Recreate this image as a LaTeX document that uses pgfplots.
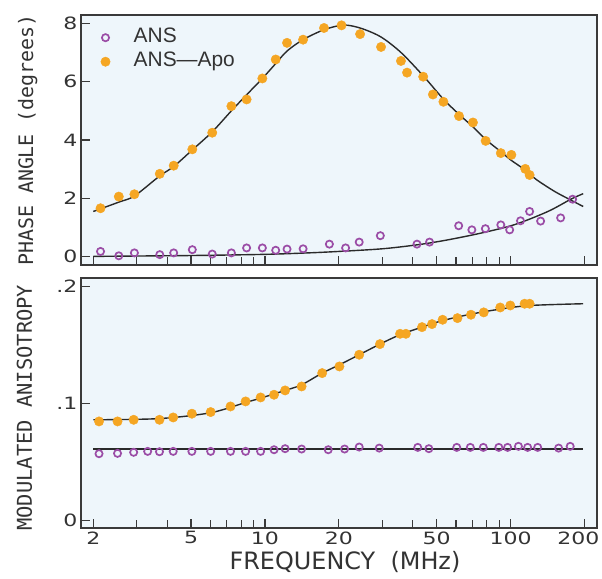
\documentclass[border=0pt]{standalone}
\usepackage{pgfplots}
\pgfplotsset{compat=1.18}
\usepackage{fontspec}
\setmainfont{DejaVu Sans}
\newfontfamily\tickfont[FakeStretch=1.3]{DejaVu Sans}
\newfontfamily\legfont{Liberation Sans}
\newfontfamily\labmono{DejaVu Sans Mono}
\definecolor{bgblue}{HTML}{EEF6FB}
\definecolor{apocol}{HTML}{F5A623}
\definecolor{anscol}{HTML}{9B4DA6}
\definecolor{axiscol}{HTML}{3A3A3A}
\definecolor{textcol}{HTML}{333333}
\definecolor{curvecol}{HTML}{2A2A2A}
\begin{document}
\begin{tikzpicture}
\path[use as bounding box] (0,0) rectangle (602bp,579bp);
% ---------------- top panel: phase angle ----------------
\begin{axis}[name=top, at={(81bp,314bp)}, anchor=south west,
  scale only axis, width=516bp, height=250bp,
  xmode=log, xmin=1.782, xmax=225,
  axis line style={draw=axiscol, line width=1.2bp},
  axis background/.style={fill=bgblue},
  tick align=inside, xtick pos=left, ytick pos=left,
  major tick length=9bp, minor tick length=8bp,
  tick style={draw=axiscol, line width=1.1bp},
  xtick={2,5,10,20,50,100,200},
  minor xtick={3,4,6,7,8,9,30,40,60,70,80,90},
  tick label style={font=\tickfont\fontsize{17}{20}\selectfont, text=textcol},
  scaled y ticks=false,
  ymin=-0.285, ymax=8.285,
  ytick={0,2,4,6,8}, yticklabels={0,2,4,6,8},
  xticklabels={},
  ylabel={PHASE ANGLE (degrees)},
  ylabel style={font=\labmono\fontsize{20}{24}\selectfont, text=textcol, anchor=base,
    at={(axis description cs:-0.093,0.5)}},
  legend style={at={(axis description cs:0.038,0.950)}, anchor=north west,
    draw=none, fill=none, inner xsep=0pt, inner ysep=0pt, row sep=4bp, column sep=23.5bp,
    font=\legfont\fontsize{21}{24}\selectfont, text=textcol,
    nodes={inner sep=0pt, text height=15bp, text depth=5bp}},
  legend cell align=left,
]
\addplot[only marks, mark=o, mark size=3.6bp, mark options={draw=anscol, line width=1.7bp}] coordinates {
 (2.14,0.18) (2.54,0.03) (2.94,0.13) (3.73,0.07) (4.25,0.13) (5.06,0.24)
 (6.10,0.09) (7.30,0.13) (8.42,0.30) (9.76,0.30) (11.06,0.22) (12.3,0.26)
 (14.3,0.27) (18.3,0.43) (21.3,0.30) (24.2,0.50) (29.5,0.72) (41.6,0.43)
 (46.8,0.50) (61.5,1.06) (69.6,0.92) (79.0,0.96) (91.3,1.09) (99.2,0.92)
 (109.8,1.23) (119.6,1.55) (132.6,1.22) (160,1.33) (179,1.97)
};
\addlegendentry{ANS}
\addplot[only marks, mark=*, mark size=4.7bp, mark options={draw=apocol, fill=apocol}] coordinates {
 (2.14,1.66) (2.54,2.06) (2.94,2.14) (3.73,2.84) (4.25,3.12) (5.06,3.68)
 (6.10,4.25) (7.30,5.16) (8.42,5.39) (9.76,6.11) (11.06,6.76) (12.3,7.33)
 (14.3,7.44) (17.4,7.84) (20.5,7.93) (24.4,7.63) (29.7,7.19) (35.8,6.71)
 (37.9,6.31) (44.1,6.17) (48.3,5.56) (53.3,5.31) (61.7,4.82) (70.3,4.60)
 (79.2,3.97) (91.3,3.55) (100.8,3.49) (114.8,3.01) (119.6,2.80)
};
\addlegendentry{ANS—Apo}
\addplot[smooth, line width=1.4bp, draw=curvecol, forget plot] coordinates {
 (2.0,1.55) (2.54,1.87) (2.94,2.08) (3.73,2.77) (4.25,3.09) (5.06,3.66)
 (6.10,4.28) (7.30,5.00) (8.42,5.55) (9.76,6.11) (11.06,6.62) (12.3,7.05)
 (14.3,7.44) (17.4,7.78) (20.9,7.94) (24.6,7.83) (29.7,7.53) (35.8,7.00)
 (44.1,6.20) (53.3,5.40) (61.7,4.88) (70.3,4.45) (79.2,4.02) (91.3,3.60)
 (100.8,3.30) (114.8,2.97) (127.6,2.64) (151.7,2.23) (177,1.93) (197.7,1.72)
};
\addplot[smooth, line width=1.4bp, draw=curvecol, forget plot] coordinates {
 (2.0,0.01) (5,0.04) (10,0.08) (15,0.13) (20,0.18) (30,0.27) (42,0.41)
 (55,0.57) (76,0.81) (104,1.10) (142,1.55) (177,1.98) (197.7,2.16)
};
\end{axis}
% ---------------- bottom panel: modulated anisotropy ----------------
\begin{axis}[name=bot, at={(81bp,51bp)}, anchor=south west,
  scale only axis, width=516bp, height=250bp,
  xmode=log, xmin=1.782, xmax=225,
  axis line style={draw=axiscol, line width=1.2bp},
  axis background/.style={fill=bgblue},
  tick align=inside, xtick pos=left, ytick pos=left,
  major tick length=9bp, minor tick length=8bp,
  tick style={draw=axiscol, line width=1.1bp},
  xtick={2,5,10,20,50,100,200},
  minor xtick={3,4,6,7,8,9,30,40,60,70,80,90},
  tick label style={font=\tickfont\fontsize{17}{20}\selectfont, text=textcol},
  scaled y ticks=false,
  ymin=-0.0065, ymax=0.2072,
  ytick={0,0.1,0.2}, yticklabels={0,.1,.2},
  xticklabels={2,5,10,20,50,100,\hspace*{-12bp}200},
  ylabel={MODULATED ANISOTROPY},
  ylabel style={font=\labmono\fontsize{20.5}{24}\selectfont, text=textcol, anchor=base,
    at={(axis description cs:-0.095,0.481)}},
  xlabel={FREQUENCY\hspace{0.64em}(MHz)},
  xlabel style={font=\fontsize{24}{28}\selectfont, text=textcol,
    at={(axis description cs:0.5116,-0.166)}, anchor=base},
]
\addplot[only marks, mark=o, mark size=3.6bp, mark options={draw=anscol, line width=1.7bp}] coordinates {
 (2.11,0.0570) (2.51,0.0573) (2.92,0.0582) (3.33,0.0590) (3.72,0.0587)
 (4.23,0.0590) (5.04,0.0590) (6.01,0.0590) (7.24,0.0590) (8.34,0.0590)
 (9.60,0.0590) (10.89,0.0604) (12.08,0.0613) (14.1,0.0610) (18.1,0.0604)
 (21.1,0.0610) (24.2,0.0627) (29.2,0.0618) (41.9,0.0624) (46.5,0.0613)
 (60.4,0.0624) (68.6,0.0624) (77.5,0.0624) (89.6,0.0624) (97.3,0.0624)
 (107.7,0.0633) (117.4,0.0624) (129,0.0624) (157,0.0618) (175,0.0633)
};
\addplot[only marks, mark=*, mark size=4.7bp, mark options={draw=apocol, fill=apocol}] coordinates {
 (2.11,0.0846) (2.51,0.0846) (2.92,0.0860) (3.72,0.0860) (4.23,0.0880)
 (5.04,0.0912) (6.01,0.0926) (7.24,0.0974) (8.34,0.1017) (9.60,0.1051)
 (10.89,0.1074) (12.08,0.1111) (14.1,0.1145) (17.1,0.1259) (20.1,0.1316)
 (24.2,0.1416) (29.4,0.1507) (35.5,0.1595) (37.5,0.1595) (43.6,0.1652)
 (47.9,0.1678) (52.9,0.1715) (60.8,0.1729) (69.0,0.1758) (77.8,0.1778)
 (90.8,0.1820) (99.8,0.1837) (114.1,0.1852) (119.6,0.1852)
};
\addplot[smooth, line width=1.4bp, draw=curvecol] coordinates {
 (2.0,0.0860) (3.7,0.0870) (6.0,0.0920) (8.34,0.1008) (9.6,0.1045)
 (12.08,0.1111) (14.1,0.1159) (17.1,0.1259) (20.1,0.1330) (24.2,0.1416)
 (29.4,0.1507) (35.5,0.1587) (43.6,0.1652) (52.9,0.1708) (69.0,0.1763)
 (90.8,0.1806) (120,0.1837) (197.7,0.1852)
};
\addplot[line width=1.4bp, draw=curvecol] coordinates {(2.0,0.0609) (197.7,0.0609)};
\end{axis}
\end{tikzpicture}
\end{document}
